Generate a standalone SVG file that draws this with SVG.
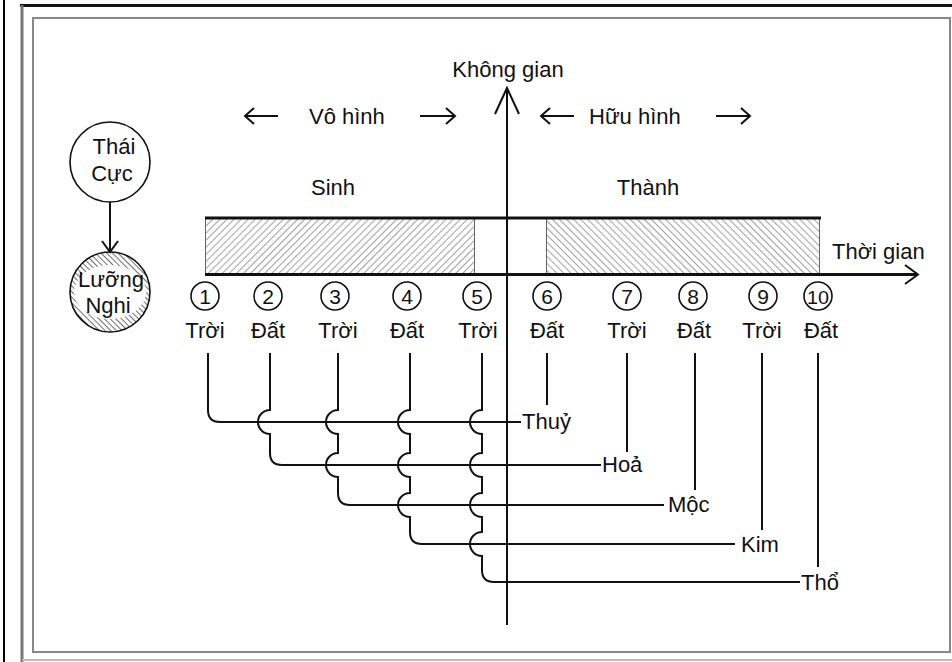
<svg xmlns="http://www.w3.org/2000/svg" width="952" height="662" viewBox="0 0 952 662">
<defs>
<style>
text{font-family:"Liberation Sans",Arial,sans-serif;font-size:22px;fill:#111}
.m{text-anchor:middle}
.ln{fill:none;stroke:#111;stroke-width:2}
.num{font-size:21px;text-anchor:middle}
.c{fill:#fff;stroke:#111;stroke-width:1.6}
</style>
<pattern id="hL" width="5" height="5" patternUnits="userSpaceOnUse" patternTransform="rotate(45)"><line x1="0" y1="0" x2="0" y2="5" stroke="#444" stroke-width="1"/></pattern>
<pattern id="hR" width="5" height="5" patternUnits="userSpaceOnUse" patternTransform="rotate(-45)"><line x1="0" y1="0" x2="0" y2="5" stroke="#444" stroke-width="1"/></pattern>
<pattern id="hC" width="4" height="4" patternUnits="userSpaceOnUse" patternTransform="rotate(-45)"><line x1="0" y1="0" x2="0" y2="4" stroke="#333" stroke-width="1.4"/></pattern>
<clipPath id="lnClip"><circle cx="110" cy="292" r="39"/></clipPath>
</defs>
<rect width="952" height="662" fill="#fff"/>
<g id="frame">
<line x1="4" y1="0" x2="4" y2="662" stroke="#000" stroke-width="2"/>
<line x1="20" y1="5.5" x2="952" y2="5.5" stroke="#111" stroke-width="3"/>
<line x1="22" y1="5" x2="22" y2="662" stroke="#777" stroke-width="3"/>
<line x1="22" y1="660" x2="952" y2="660" stroke="#bbb" stroke-width="2"/>
<rect x="33" y="18" width="917" height="634" fill="none" stroke="#888" stroke-width="2"/>
</g>
<g id="bar">
<rect x="205" y="219" width="269" height="55" fill="url(#hL)"/>
<rect x="546" y="219" width="274" height="55" fill="url(#hR)"/>
<g stroke="#666" stroke-width="1"><line x1="205.5" y1="219" x2="205.5" y2="274"/><line x1="474.5" y1="219" x2="474.5" y2="274"/><line x1="546.5" y1="219" x2="546.5" y2="274"/><line x1="819.5" y1="219" x2="819.5" y2="274"/></g>
<line x1="205" y1="218" x2="821" y2="218" stroke="#111" stroke-width="3"/>
</g>
<g id="axes">
<line x1="507" y1="88" x2="507" y2="625" class="ln"/>
<path d="M495 114 L507 88 L519 114" class="ln"/>
<line x1="205" y1="274.5" x2="917" y2="274.5" stroke="#111" stroke-width="3"/>
<path d="M905 265 L918 274.5 L905 284" class="ln"/>
<text x="508" y="77" class="m">Không gian</text>
<text x="832" y="259">Thời gian</text>
</g>
<g id="labels-top">
<path d="M278 116 L245 116 M254 108 L245 116 L254 124" class="ln"/>
<text x="309" y="124">Vô hình</text>
<path d="M420 116 L455 116 M446 108 L455 116 L446 124" class="ln"/>
<path d="M574 116 L541 116 M550 108 L541 116 L550 124" class="ln"/>
<text x="589" y="124">Hữu hình</text>
<path d="M716 116 L750 116 M741 108 L750 116 L741 124" class="ln"/>
<text x="333" y="195" class="m">Sinh</text>
<text x="648" y="195" class="m">Thành</text>
</g>
<g id="thai-cuc">
<circle cx="110" cy="162" r="40" class="c"/>
<text x="114" y="154" class="m">Thái</text>
<text x="112" y="181" class="m">Cực</text>
</g>
<g id="luong-nghi">
<circle cx="110" cy="292" r="40" fill="url(#hC)"/>
<ellipse cx="110" cy="292" rx="36" ry="27" fill="#fff" clip-path="url(#lnClip)"/>
<circle cx="110" cy="292" r="40" fill="none" stroke="#111" stroke-width="1.6"/>
<text x="111" y="287" class="m">Lưỡng</text>
<text x="108" y="313" class="m">Nghi</text>
</g>
<g id="edge-tc-ln">
<line x1="110" y1="202" x2="110" y2="252" class="ln"/>
<path d="M102 241 L110 252 L118 241" class="ln"/>
</g>
<g id="points">
<g id="p1"><circle cx="205" cy="296" r="14" class="c"/><text x="205" y="304" class="num">1</text><text x="205" y="338" class="m">Trời</text></g>
<g id="p2"><circle cx="268" cy="296" r="14" class="c"/><text x="268" y="304" class="num">2</text><text x="268" y="338" class="m">Đất</text></g>
<g id="p3"><circle cx="335" cy="296" r="14" class="c"/><text x="335" y="304" class="num">3</text><text x="338" y="338" class="m">Trời</text></g>
<g id="p4"><circle cx="407" cy="296" r="14" class="c"/><text x="407" y="304" class="num">4</text><text x="407" y="338" class="m">Đất</text></g>
<g id="p5"><circle cx="477" cy="296" r="14" class="c"/><text x="477" y="304" class="num">5</text><text x="478" y="338" class="m">Trời</text></g>
<g id="p6"><circle cx="547" cy="296" r="14" class="c"/><text x="547" y="304" class="num">6</text><text x="547" y="338" class="m">Đất</text></g>
<g id="p7"><circle cx="627" cy="296" r="14" class="c"/><text x="627" y="304" class="num">7</text><text x="627" y="338" class="m">Trời</text></g>
<g id="p8"><circle cx="693" cy="296" r="14" class="c"/><text x="693" y="304" class="num">8</text><text x="694" y="338" class="m">Đất</text></g>
<g id="p9"><circle cx="763" cy="296" r="14" class="c"/><text x="763" y="304" class="num">9</text><text x="762" y="338" class="m">Trời</text></g>
<g id="p10"><circle cx="818" cy="296" r="14" class="c"/><text x="818" y="304" class="num" style="font-size:19px" textLength="22" lengthAdjust="spacingAndGlyphs">10</text><text x="821" y="338" class="m">Đất</text></g>
</g>
<g id="connectors">
<path class="ln" d="M208 353 L208 410 Q208 422 220 422 L521 422"/>
<path class="ln" d="M270 353 L270 410 A12 12 0 0 0 270 434 L270 453 Q270 465 282 465 L601 465"/>
<path class="ln" d="M338 353 L338 410 A12 12 0 0 0 338 434 L338 453 A12 12 0 0 0 338 477 L338 493 Q338 505 350 505 L664 505"/>
<path class="ln" d="M410 353 L410 410 A12 12 0 0 0 410 434 L410 453 A12 12 0 0 0 410 477 L410 493 A12 12 0 0 0 410 517 L410 532 Q410 544 422 544 L735 544"/>
<path class="ln" d="M482 353 L482 410 A12 12 0 0 0 482 434 L482 453 A12 12 0 0 0 482 477 L482 493 A12 12 0 0 0 482 517 L482 532 A12 12 0 0 0 482 556 L482 570 Q482 582 494 582 L800 582"/>
<line x1="547" y1="353" x2="547" y2="405" class="ln"/>
<line x1="627" y1="353" x2="627" y2="452" class="ln"/>
<line x1="695" y1="353" x2="695" y2="490" class="ln"/>
<line x1="762" y1="353" x2="762" y2="530" class="ln"/>
<line x1="818" y1="353" x2="818" y2="567" class="ln"/>
</g>
<g id="elements">
<text x="522" y="429">Thuỷ</text>
<text x="602" y="472">Hoả</text>
<text x="668" y="512">Mộc</text>
<text x="741" y="552">Kim</text>
<text x="801" y="590">Thổ</text>
</g>
</svg>
